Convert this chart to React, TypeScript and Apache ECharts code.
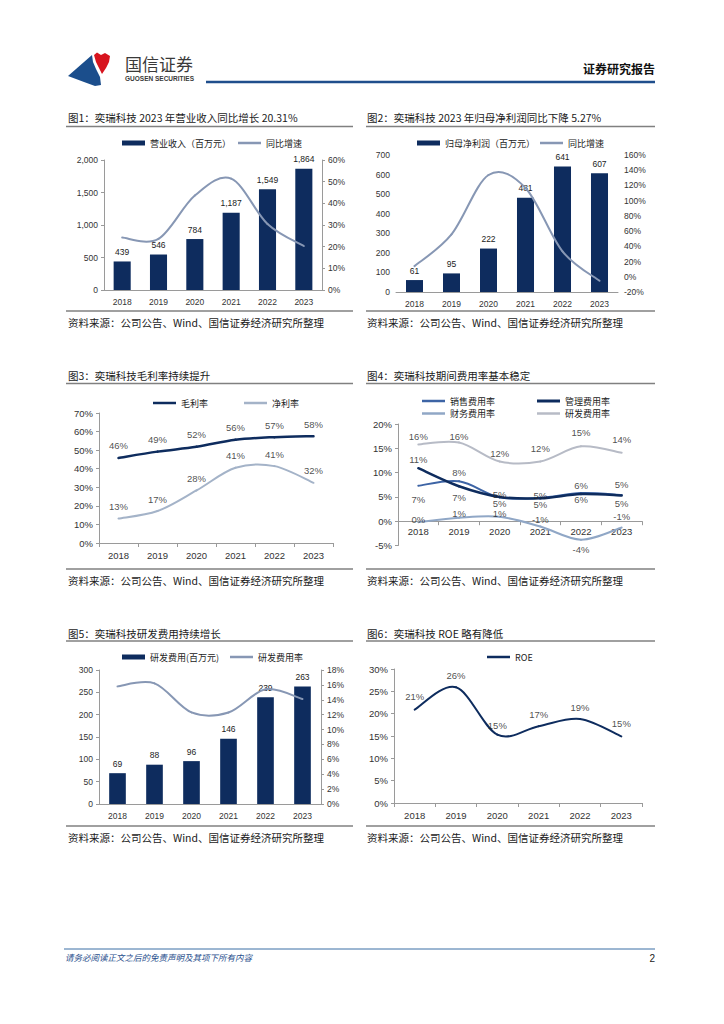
import React, { useEffect, useRef } from 'react';
import * as echarts from 'echarts';

const years = ['2018', '2019', '2020', '2021', '2022', '2023'];
const revenue = [439, 546, 784, 1187, 1549, 1864];
const revenueGrowth = [24.2, 23.6, 43.6, 51.4, 30.5, 20.3];
const netProfit = [61, 95, 222, 481, 641, 607];
const netProfitGrowth = [14, 55.7, 133.7, 116.7, 33.3, -5.27];
const grossMargin = [45.8, 49.2, 51.8, 55.6, 57.0, 57.5];
const netMargin = [13.2, 17.2, 28.3, 40.5, 41.4, 32.4];
const salesRate = [7.3, 8.2, 4.9, 4.8, 5.8, 5.4];
const adminRate = [10.9, 7.2, 5.0, 4.7, 5.6, 5.3];
const financeRate = [-0.2, 0.7, 0.9, -1.1, -3.8, -1.3];
const rdRate = [15.8, 16.2, 12.3, 12.3, 15.4, 14.1];
const rdExpense = [69, 88, 96, 146, 239, 263];
const roe = [20.9, 25.9, 15.3, 17.2, 18.8, 14.9];

// label placement (layout only)
const salesLabelPos = ['bottom', 'top', 'top', 'top', 'top', 'top'];
const salesLabelDist = [8, 3, -3, -3, 2.5, 4.5];
const adminLabelPos = ['top', 'bottom', 'bottom', 'bottom', 'bottom', 'bottom'];
const adminLabelDist = [3, 5.5, 1.5, 1, 0.5, 3];
const financeLabelPos = ['top', 'top', 'top', 'top', 'bottom', 'top'];
const financeLabelDist = [-3, -1, -2.5, 1.5, 4, 5.5];
const rdLabelDist = [2.5, 0, 2, 7.5, 8.5, 7.5];
const roeLabelDist = [7.5, 6, 3.5, 6.5, 6, 7];

const titles = [
  '图1：奕瑞科技 2023 年营业收入同比增长 20.31%',
  '图2：奕瑞科技 2023 年归母净利润同比下降 5.27%',
  '图3：奕瑞科技毛利率持续提升',
  '图4：奕瑞科技期间费用率基本稳定',
  '图5：奕瑞科技研发费用持续增长',
  '图6：奕瑞科技 ROE 略有降低',
];
const sourceText = '资料来源：公司公告、Wind、国信证券经济研究所整理';

const NAVY = '#0e2c5e';
const LINEBLUE = '#8797b4';
const AXIS = '#9a9a9a';
const CN = '"Noto Sans CJK SC", "Liberation Sans", sans-serif';
const NUM = '"Liberation Sans", Arial, sans-serif';

const pctLabel = (p: any) => {
  const v = Array.isArray(p.value) ? p.value[1] : typeof p.value === 'number' ? p.value : p.value.value;
  const r = Math.round(v);
  return (r === 0 ? '0' : String(r)) + '%';
};

function catAxis(gridIndex: number, tick: boolean, fs: number, margin: number, offset = 0) {
  return {
    type: 'category',
    gridIndex,
    data: years,
    boundaryGap: true,
    offset,
    axisLine: { show: true, onZero: false, lineStyle: { color: AXIS, width: 1 } },
    axisTick: { show: tick, length: 4, lineStyle: { color: AXIS } },
    axisLabel: { fontSize: fs, color: '#333', fontFamily: NUM, margin },
    splitLine: { show: false },
  };
}

function valAxis(
  gridIndex: number,
  min: number,
  max: number,
  interval: number,
  fmt: (v: number) => string,
  position: string,
  fs: number,
  showLine = true
) {
  return {
    type: 'value',
    gridIndex,
    min,
    max,
    interval,
    position,
    axisLine: { show: showLine, lineStyle: { color: AXIS, width: 1 } },
    axisTick: { show: showLine, length: 3, lineStyle: { color: AXIS } },
    axisLabel: { fontSize: fs, color: '#333', fontFamily: NUM, margin: 6, formatter: fmt },
    splitLine: { show: false },
  };
}

function leg(name: string, left: number, cy: number, color: string, h: number) {
  return {
    data: [{ name, icon: 'rect', itemStyle: { color } }],
    left,
    top: cy - 6,
    height: 12,
    padding: 0,
    itemGap: 0,
    itemWidth: 23,
    itemHeight: h,
    selectedMode: false,
    textStyle: { fontSize: 9, color: '#222', fontFamily: CN, lineHeight: 12 },
  };
}

function text(x: number, y: number, s: string, fontSize: number, extra: any = {}) {
  return {
    type: 'text',
    x,
    y,
    silent: true,
    style: {
      text: s,
      fontSize,
      fontFamily: CN,
      fill: '#1a1a1a',
      textAlign: 'left',
      textVerticalAlign: 'middle',
      align: 'left',
      verticalAlign: 'middle',
      ...extra,
    },
  };
}

function hline(x1: number, x2: number, y: number, color: string, w: number) {
  return { type: 'line', silent: true, shape: { x1, y1: y, x2, y2: y }, style: { stroke: color, lineWidth: w } };
}

// Smooth curve through the points (Catmull-Rom style bezier), drawn via the axes' scales.
function curve(name: string, xi: number, yi: number, arr: number[], color: string, width: number) {
  const n = arr.length;
  return {
    type: 'custom',
    name,
    xAxisIndex: xi,
    yAxisIndex: yi,
    clip: false,
    silent: true,
    z: 3,
    itemStyle: { color },
    data: arr.map((v, i) => [i, v]),
    encode: { x: 0, y: 1 },
    renderItem: (params: any, api: any) => {
      const i = params.dataIndex;
      if (i >= n - 1) return { type: 'group', children: [] };
      const p = (j: number) => {
        const k = Math.max(0, Math.min(n - 1, j));
        return api.coord([k, arr[k]]);
      };
      const p0 = p(i - 1);
      const p1 = p(i);
      const p2 = p(i + 1);
      const p3 = p(i + 2);
      const t = 1 / 6;
      return {
        type: 'bezierCurve',
        shape: {
          x1: p1[0],
          y1: p1[1],
          x2: p2[0],
          y2: p2[1],
          cpx1: p1[0] + (p2[0] - p0[0]) * t,
          cpy1: p1[1] + (p2[1] - p0[1]) * t,
          cpx2: p2[0] - (p3[0] - p1[0]) * t,
          cpy2: p2[1] - (p3[1] - p1[1]) * t,
        },
        style: { stroke: color, lineWidth: width, fill: 'none', lineCap: 'round' },
      };
    },
  };
}

function labels(xi: number, yi: number, arr: number[], dist: number[], pos?: string[]) {
  return {
    type: 'scatter',
    xAxisIndex: xi,
    yAxisIndex: yi,
    silent: true,
    symbolSize: 1,
    z: 5,
    itemStyle: { color: 'rgba(0,0,0,0)' },
    data: arr.map((v, i) => ({
      value: [i, v],
      label: { position: pos ? pos[i] : 'top', distance: dist[i] },
    })),
    label: {
      show: true,
      position: 'top',
      fontSize: 9.5,
      color: '#222',
      fontFamily: NUM,
      formatter: pctLabel,
    },
    labelLayout: { hideOverlap: false },
  };
}

const same = (d: number) => years.map(() => d);

function buildOption() {
  const barLabel = (fs: number) => ({
    show: true,
    position: 'top',
    distance: 5,
    fontSize: fs,
    color: '#222',
    fontFamily: NUM,
    formatter: (p: any) => Number(p.value).toLocaleString('en-US'),
  });

  const graphics: any[] = [
    // logo
    {
      type: 'polygon',
      silent: true,
      shape: {
        points: [[68, 76], [92, 55], [93, 62], [96, 69], [100, 77], [101, 85], [95, 86], [84, 82]],
      },
      style: { fill: '#1b4e8c' },
    },
    {
      type: 'polygon',
      silent: true,
      shape: {
        points: [[94, 55], [97, 52.5], [101, 55], [105, 53], [110, 56], [109, 62], [106, 68], [102, 74], [99, 68], [96, 62]],
      },
      style: { fill: '#d7141e' },
    },
    text(125, 63, '国信证券', 17, { fill: '#3a3a3a' }),
    text(125, 78, 'GUOSEN SECURITIES', 6.5, { fill: '#3a3a3a', fontFamily: NUM, fontWeight: 'bold' }),
    text(655, 68, '证券研究报告', 12, { fill: '#111', fontWeight: 'bold', textAlign: 'right', align: 'right' }),
    hline(206, 655, 82, '#1f4e8c', 2.5),
    // footer
    hline(64, 655, 949, '#3a6ea5', 1),
    text(65, 957, '请务必阅读正文之后的免责声明及其项下所有内容', 8.5, { fill: '#1f4e8c', fontStyle: 'italic' }),
    text(655, 958, '2', 10, { fill: '#222', fontFamily: NUM, textAlign: 'right', align: 'right' }),
  ];

  const cols = [
    { x: 68, l1: 66, l2: 353 },
    { x: 367, l1: 366, l2: 655 },
  ];
  const rows = [
    { t: 117, tl: 126.5, sl: 311, st: 322 },
    { t: 375, tl: 383.5, sl: 569, st: 580 },
    { t: 633, tl: 641, sl: 826, st: 837 },
  ];
  titles.forEach((t, i) => {
    const c = cols[i % 2];
    const r = rows[Math.floor(i / 2)];
    graphics.push(text(c.x, r.t, t, 10.5));
    graphics.push(hline(c.l1, c.l2, r.tl, '#808080', 1.5));
    graphics.push(hline(c.l1, c.l2, r.sl, '#808080', 1.5));
    graphics.push(text(c.x, r.st, sourceText, 10.5));
  });

  const g4h = 121.5;

  return {
    animation: false,
    backgroundColor: '#ffffff',
    textStyle: { fontFamily: CN },
    grid: [
      { left: 104, top: 160, width: 218, height: 130 },
      { left: 396, top: 155, width: 222, height: 137 },
      { left: 99, top: 413, width: 234, height: 130 },
      { left: 398, top: 424, width: 244, height: g4h },
      { left: 99, top: 670, width: 222, height: 134 },
      { left: 394, top: 669, width: 248, height: 134 },
    ],
    xAxis: [
      catAxis(0, false, 8.5, 7),
      catAxis(1, false, 8.5, 7),
      catAxis(2, true, 9.5, 7),
      catAxis(3, true, 9.5, 5, -(g4h * 5) / 25),
      catAxis(4, false, 8.5, 7),
      catAxis(5, true, 9.5, 7),
    ],
    yAxis: [
      valAxis(0, 0, 2000, 500, (v) => v.toLocaleString('en-US'), 'left', 8.5),
      valAxis(0, 0, 60, 10, (v) => v + '%', 'right', 8.5),
      valAxis(1, 0, 700, 100, (v) => String(v), 'left', 8.5, false),
      valAxis(1, -20, 160, 20, (v) => v + '%', 'right', 8.5, false),
      valAxis(2, 0, 70, 10, (v) => v + '%', 'left', 9.5),
      valAxis(3, -5, 20, 5, (v) => v + '%', 'left', 9.5),
      valAxis(4, 0, 300, 50, (v) => String(v), 'left', 8.5),
      valAxis(4, 0, 18, 2, (v) => v + '%', 'right', 8.5),
      valAxis(5, 0, 30, 5, (v) => v + '%', 'left', 9.5),
    ],
    legend: [
      leg('营业收入（百万元）', 122, 143, NAVY, 5),
      leg('同比增速', 238, 143, LINEBLUE, 2.5),
      leg('归母净利润（百万元）', 417, 143, NAVY, 5),
      leg('同比增速 ', 540, 143, LINEBLUE, 2.5),
      leg('毛利率', 153, 403, NAVY, 2.5),
      leg('净利率', 244, 403, '#a4b3c8', 2.5),
      leg('销售费用率', 422, 401, '#3d64a5', 2.5),
      leg('管理费用率', 537, 401, NAVY, 3),
      leg('财务费用率', 422, 413.5, '#90a7c6', 2.5),
      leg('研发费用率', 537, 413.5, '#b7bbc6', 2.5),
      leg('研发费用(百万元)', 122, 657, NAVY, 5),
      leg('研发费用率 ', 230, 657, LINEBLUE, 2.5),
      leg('ROE', 487, 657, NAVY, 2.5),
    ],
    series: [
      // chart 1
      {
        type: 'bar', name: '营业收入（百万元）', xAxisIndex: 0, yAxisIndex: 0, data: revenue,
        barWidth: '47%', itemStyle: { color: NAVY }, label: barLabel(8.5),
      },
      curve('同比增速', 0, 1, revenueGrowth, LINEBLUE, 2),
      // chart 2
      {
        type: 'bar', name: '归母净利润（百万元）', xAxisIndex: 1, yAxisIndex: 2, data: netProfit,
        barWidth: '46%', itemStyle: { color: NAVY }, label: barLabel(8.5),
      },
      curve('同比增速 ', 1, 3, netProfitGrowth, LINEBLUE, 2),
      // chart 3
      curve('毛利率', 2, 4, grossMargin, NAVY, 2.5),
      curve('净利率', 2, 4, netMargin, '#a4b3c8', 2),
      labels(2, 4, grossMargin, same(6.5)),
      labels(2, 4, netMargin, same(6.5)),
      // chart 4
      curve('研发费用率', 3, 5, rdRate, '#b7bbc6', 2),
      curve('财务费用率', 3, 5, financeRate, '#90a7c6', 2),
      curve('销售费用率', 3, 5, salesRate, '#3d64a5', 2),
      curve('管理费用率', 3, 5, adminRate, NAVY, 2.5),
      labels(3, 5, rdRate, rdLabelDist),
      labels(3, 5, financeRate, financeLabelDist, financeLabelPos),
      labels(3, 5, salesRate, salesLabelDist, salesLabelPos),
      labels(3, 5, adminRate, adminLabelDist, adminLabelPos),
      // chart 5
      {
        type: 'bar', name: '研发费用(百万元)', xAxisIndex: 4, yAxisIndex: 6, data: rdExpense,
        barWidth: '45%', itemStyle: { color: NAVY }, label: barLabel(8.5),
      },
      curve('研发费用率 ', 4, 7, rdRate, LINEBLUE, 2),
      // chart 6
      curve('ROE', 5, 8, roe, NAVY, 2),
      labels(5, 8, roe, roeLabelDist),
    ],
    graphic: { elements: graphics },
  };
}

export default function App() {
  const ref = useRef<HTMLDivElement>(null);
  useEffect(() => {
    const el = ref.current;
    if (!el) return;
    const chart = echarts.init(el, null, { renderer: 'svg', width: 724, height: 1024 });
    chart.setOption(buildOption() as any);
    return () => chart.dispose();
  }, []);
  return (
    <div
      ref={ref}
      style={{ position: 'absolute', left: 0, top: 0, width: 724, height: 1024, background: '#fff' }}
    />
  );
}
